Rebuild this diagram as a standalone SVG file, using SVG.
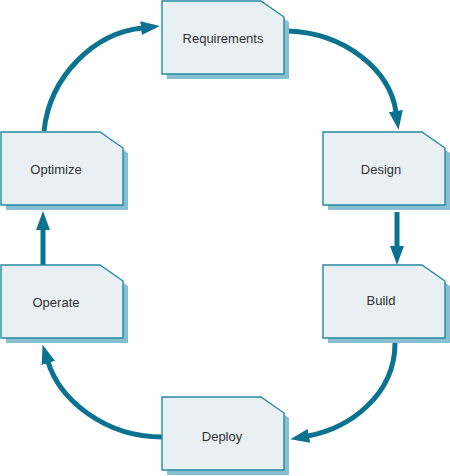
<svg xmlns="http://www.w3.org/2000/svg" width="450" height="476" viewBox="0 0 450 476">
<defs>
<style>
.sh{fill:#86bfd1;}
.bx{fill:#e8f0f3;stroke:#2689a3;stroke-width:1.4;}
.lb{font-family:"Liberation Sans",Arial,sans-serif;font-size:13px;fill:#333;text-anchor:middle;}
.cn{fill:none;stroke:#0b7390;stroke-width:5;}
</style>
<g id="shape">
<polygon class="sh" points="5,5 104,5 127,21 127,78 5,78"/>
<polygon class="bx" points="0,0 99,0 122,16 122,73 0,73"/>
</g>
<marker id="ah" markerUnits="userSpaceOnUse" markerWidth="19" markerHeight="14" refX="1" refY="7" orient="auto" viewBox="0 0 19 14">
<path d="M0,0 L19,7 L0,14 Z" fill="#0b7390"/>
</marker>
</defs>
<rect width="450" height="476" fill="#fff"/>
<g id="connectors">
<path class="cn" d="M44,131 C50,75 95,33 142,28" marker-end="url(#ah)"/>
<path class="cn" d="M288,31 C345,33 390,70 396,112" marker-end="url(#ah)"/>
<path class="cn" d="M397,212 L397,247" marker-end="url(#ah)"/>
<path class="cn" d="M395,343 C395,395 350,428 308,436" marker-end="url(#ah)"/>
<path class="cn" d="M162,437 C105,437 60,400 48,362" marker-end="url(#ah)"/>
<path class="cn" d="M43,265 L43,229" marker-end="url(#ah)"/>
</g>
<g id="requirements" transform="translate(162,1)"><use href="#shape"/><text class="lb" x="61" y="42">Requirements</text></g>
<g id="design" transform="translate(323,132)"><use href="#shape"/><text class="lb" x="58" y="42">Design</text></g>
<g id="build" transform="translate(323,265)"><use href="#shape"/><text class="lb" x="58" y="40">Build</text></g>
<g id="deploy" transform="translate(162,397)"><use href="#shape"/><text class="lb" x="60" y="44">Deploy</text></g>
<g id="operate" transform="translate(1,265)"><use href="#shape"/><text class="lb" x="55" y="42">Operate</text></g>
<g id="optimize" transform="translate(1,132)"><use href="#shape"/><text class="lb" x="55" y="42">Optimize</text></g>
</svg>
